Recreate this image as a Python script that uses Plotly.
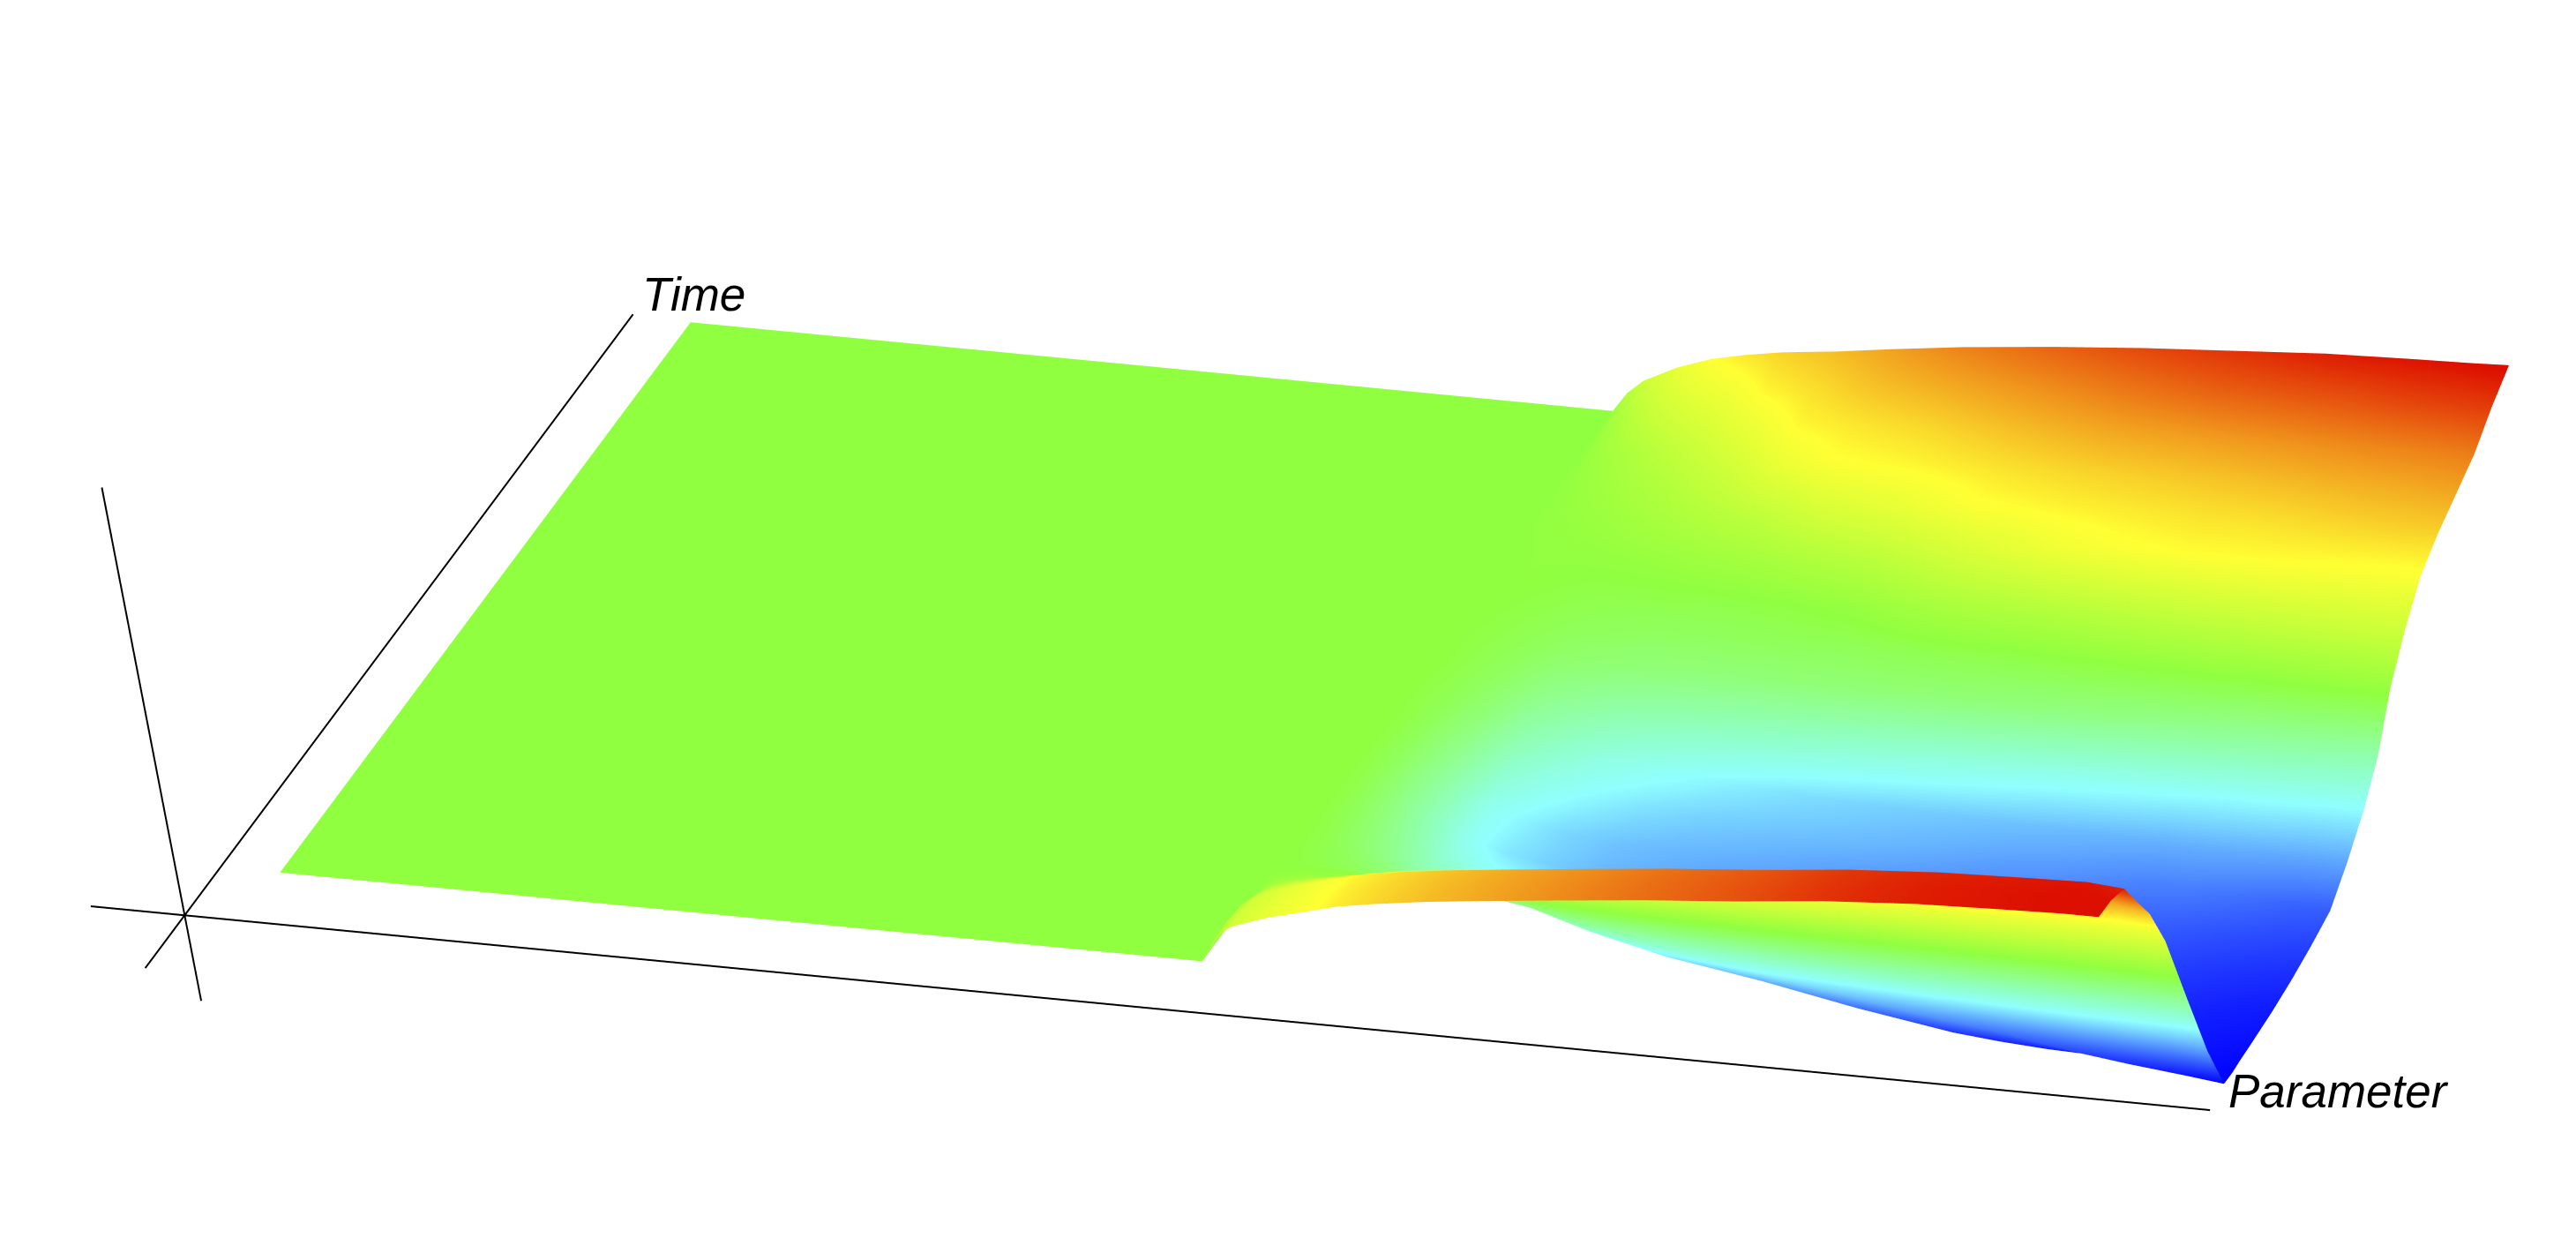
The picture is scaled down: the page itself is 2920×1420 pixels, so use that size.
import numpy as np
import plotly.graph_objects as go

parameter = [0, .5, .51, .52, .54, .56, .58, .6, .63, .66, .7, .75, .8, .825, .85, .875, .9, .925, .95, .98, 1]
time = [0, .03, .06, .08, .1, .12, .14, .16, .18, .2, .22, .25, .3, .35, .4, .45, .5, .55, .6, .65, .7, .75, .8, .85, .9, .95, 1]

z_p000 = [0] * 27
z_p050 = [0] * 27
z_p051 = [.17,.17,.16,.13,.1,.07,.04,.01,-.01,-.01,-.02,-.02,-.03,-.03,-.03,-.02,-.02,-.01,-.01,0,0,0,.01,.02,.04,.07,.13]
z_p052 = [.25,.25,.24,.2,.16,.11,.06,.02,-.01,-.03,-.04,-.06,-.08,-.09,-.08,-.06,-.04,-.03,-.02,-.01,0,.01,.02,.04,.07,.13,.22]
z_p054 = [.33,.33,.32,.27,.22,.16,.09,.03,-.02,-.07,-.1,-.15,-.2,-.24,-.22,-.17,-.12,-.08,-.05,-.03,-.01,.01,.04,.08,.13,.23,.33]
z_p056 = [.39,.39,.38,.33,.27,.19,.11,.03,-.05,-.11,-.16,-.24,-.33,-.39,-.39,-.32,-.24,-.16,-.09,-.05,-.02,.02,.07,.12,.19,.3,.41]
z_p058 = [.45,.45,.44,.38,.31,.22,.12,.02,-.08,-.16,-.22,-.3,-.39,-.46,-.44,-.38,-.3,-.2,-.11,-.06,-.02,.03,.1,.17,.25,.35,.46]
z_p060 = [.49,.49,.48,.42,.34,.24,.14,.03,-.07,-.16,-.21,-.28,-.43,-.5,-.49,-.42,-.35,-.24,-.12,-.07,-.02,.05,.13,.22,.32,.43,.5]
z_p063 = [.54,.54,.53,.46,.37,.25,.13,.01,-.12,-.22,-.28,-.36,-.5,-.55,-.53,-.47,-.39,-.26,-.13,-.07,-.02,.07,.18,.34,.43,.48,.54]
z_p066 = [.58,.58,.57,.49,.39,.25,.1,-.06,-.22,-.34,-.42,-.48,-.56,-.58,-.55,-.5,-.43,-.28,-.13,-.06,-.01,.11,.26,.41,.46,.53,.59]
z_p070 = [.63,.63,.62,.53,.42,.27,.08,-.12,-.32,-.46,-.53,-.59,-.62,-.61,-.57,-.52,-.47,-.3,-.12,-.06,.02,.16,.32,.43,.49,.57,.65]
z_p075 = [.69,.69,.68,.58,.45,.28,.06,-.18,-.42,-.56,-.62,-.66,-.66,-.64,-.6,-.54,-.5,-.33,-.12,-.04,.1,.26,.41,.47,.54,.62,.71]
z_p080 = [.74,.74,.73,.62,.48,.3,.04,-.25,-.52,-.68,-.7,-.71,-.7,-.67,-.63,-.57,-.52,-.36,-.13,-.03,.13,.36,.44,.5,.58,.67,.76]
z_p082 = [.77,.77,.76,.64,.5,.31,.03,-.29,-.57,-.73,-.74,-.73,-.71,-.69,-.65,-.59,-.53,-.38,-.14,-.02,.15,.39,.45,.51,.59,.69,.78]
z_p085 = [.8,.8,.79,.67,.52,.32,.02,-.33,-.62,-.78,-.77,-.75,-.73,-.7,-.66,-.6,-.54,-.39,-.15,-.01,.17,.41,.46,.52,.6,.71,.8]
z_p087 = [.82,.82,.81,.68,.53,.32,0,-.36,-.66,-.81,-.79,-.77,-.75,-.72,-.68,-.62,-.55,-.4,-.17,-.01,.19,.42,.47,.53,.61,.72,.82]
z_p090 = [.84,.84,.83,.7,.54,.33,-.02,-.4,-.71,-.83,-.81,-.79,-.77,-.74,-.7,-.64,-.56,-.41,-.18,0,.2,.42,.47,.54,.62,.73,.84]
z_p092 = [.85,.85,.84,.71,.55,.33,-.05,-.44,-.76,-.84,-.82,-.8,-.78,-.75,-.71,-.65,-.56,-.42,-.2,0,.21,.42,.48,.55,.63,.74,.85]
z_p095 = [.86,.86,.85,.72,.56,.33,-.08,-.48,-.8,-.84,-.84,-.82,-.8,-.77,-.73,-.67,-.57,-.42,-.21,.01,.22,.41,.49,.56,.64,.76,.86]
z_p098 = [.87,.87,.86,.74,.58,.33,-.1,-.52,-.84,-.85,-.85,-.84,-.82,-.79,-.75,-.7,-.58,-.43,-.23,.02,.23,.4,.5,.57,.65,.77,.87]
z_p100 = [.87,.87,.84,.68,.53,.28,-.16,-.58,-.87,-.87,-.86,-.85,-.83,-.8,-.76,-.71,-.58,-.43,-.24,.03,.23,.4,.5,.58,.66,.78,.88]
z_columns = [z_p000, z_p050, z_p051, z_p052, z_p054, z_p056, z_p058, z_p060, z_p063, z_p066, z_p070, z_p075,
             z_p080, z_p082, z_p085, z_p087, z_p090, z_p092, z_p095, z_p098, z_p100]

color_levels = [-.88, -.42, 0, .42, .87]
color_values = ["#0000ff", "#90ffff", "#90ff40", "#ffff33", "#dc0f00"]

axis_origin = [-.0321, -.088, 0]
parameter_axis = [-.083, 1.066]
time_axis = [-.184, 1.004]
height_axis = [-.56, 2.8]

# Screen vectors of one unit of each axis (reference pixels in the shrunk view, y up)
m = np.array([[1123., 250., -18.], [-108., 335., 93.]])
x_range, y_range, z_range = [-.2041, 1.1959], [-.4334, 1.0666], [-1, 3]
ZOOM = 3.265
EYE = 4.0

B, C = np.linalg.solve(np.array([[m[0,1]*m[1,1], m[0,2]*m[1,2]],
                                 [m[0,1]**2-m[1,1]**2, m[0,2]**2-m[1,2]**2]]),
                       -np.array([m[0,0]*m[1,0], m[0,0]**2-m[1,0]**2]))
scale = np.array([1, 1/np.sqrt(B), 1/np.sqrt(C)])
u = m[0] / scale
v = m[1] / scale
w = np.cross(u, v)
w /= np.linalg.norm(w)
v /= np.linalg.norm(v)
sizes = ZOOM * scale * np.array([x_range[1]-x_range[0], y_range[1]-y_range[0], z_range[1]-z_range[0]])
eye = w * EYE

cs = [[(l-color_levels[0])/(color_levels[-1]-color_levels[0]), c] for l, c in zip(color_levels, color_values)]

fig = go.Figure()
fig.add_trace(go.Surface(x=parameter, y=time, z=np.array(z_columns).T.tolist(),
                         colorscale=cs, cmin=color_levels[0], cmax=color_levels[-1], showscale=False,
                         hoverinfo="skip",
                         lighting=dict(ambient=1, diffuse=0, specular=0, roughness=1, fresnel=0),
                         contours=dict(x=dict(highlight=False), y=dict(highlight=False), z=dict(highlight=False))))
ox, oy, oz = axis_origin
line = dict(color="black", width=4)
fig.add_trace(go.Scatter3d(x=parameter_axis, y=[oy, oy], z=[oz, oz], mode="lines", line=line, hoverinfo="skip", showlegend=False))
fig.add_trace(go.Scatter3d(x=[ox, ox], y=time_axis, z=[oz, oz], mode="lines", line=line, hoverinfo="skip", showlegend=False))
fig.add_trace(go.Scatter3d(x=[ox, ox], y=[oy, oy], z=height_axis, mode="lines", line=line, hoverinfo="skip", showlegend=False))

fig.update_layout(
    width=2920, height=1420, margin=dict(l=0, r=0, t=0, b=0), paper_bgcolor="white", showlegend=False,
    scene=dict(
        domain=dict(x=[0, 1], y=[0, 1]),
        xaxis=dict(visible=False, range=x_range), yaxis=dict(visible=False, range=y_range),
        zaxis=dict(visible=False, range=z_range),
        aspectmode="manual",
        aspectratio=dict(x=sizes[0], y=sizes[1], z=sizes[2]),
        camera=dict(projection=dict(type="orthographic"),
                    eye=dict(x=eye[0], y=eye[1], z=eye[2]),
                    up=dict(x=v[0], y=v[1], z=v[2]),
                    center=dict(x=0, y=0, z=0)),
        annotations=[
            dict(x=ox, y=time_axis[1], z=0, text="<i>Time</i>", showarrow=False, xanchor="left", yanchor="bottom",
                 xshift=8, yshift=-9, font=dict(family="Liberation Sans", size=53, color="black")),
            dict(x=parameter_axis[1], y=oy, z=0, text="<i>Parameter</i>", showarrow=False, xanchor="left", yanchor="middle",
                 xshift=19, yshift=22, font=dict(family="Liberation Sans", size=53, color="black")),
        ],
    ),
)
fig.write_html("out.html")
